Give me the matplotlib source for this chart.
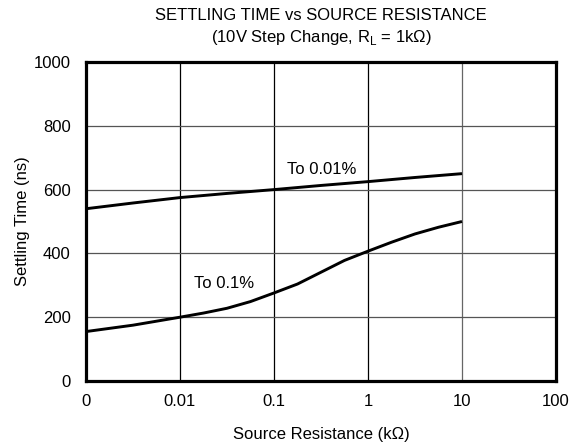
import numpy as np
import matplotlib
matplotlib.use("Agg")
import matplotlib.pyplot as plt

plt.rcParams['font.family'] = ['Liberation Sans', 'DejaVu Sans']

# x axis: decade positions, 0 / 0.01 / 0.1 / 1 / 10 / 100 kOhm
tick_labels = ['0', '0.01', '0.1', '1', '10', '100']

# points, position in decades from the "0" tick
pos_001 = [0, 0.5, 1, 1.5, 2, 2.5, 3, 3.5, 4]
t_001 = [540, 558, 575, 588, 600, 613, 625, 638, 650]

pos_01 = [0, 0.5, 1, 1.25, 1.5, 1.75, 2, 2.25, 2.5, 2.75, 3, 3.25, 3.5, 3.75, 4]
t_01 = [155, 175, 200, 213, 228, 249, 276, 304, 341, 378, 407, 435, 461, 482, 500]

fig = plt.figure(figsize=(5.73, 4.42), dpi=100)
ax = fig.add_axes([86/573, 1-381/442, 470/573, 319/442])

ax.plot(pos_001, t_001, color='black', lw=2.1, solid_capstyle='butt', zorder=3)
ax.plot(pos_01, t_01, color='black', lw=2.1, solid_capstyle='butt', zorder=3)

ax.set_xlim(0, 5)
ax.set_ylim(0, 1000)
ax.set_xticks(range(6))
ax.set_xticklabels(tick_labels)
ax.set_yticks(range(0, 1001, 200))

for x in range(1, 5):
    ax.axvline(x, color='black' if x < 4 else '#666666', lw=0.9, zorder=1)
for y in range(200, 1000, 200):
    ax.axhline(y, color='#555555', lw=0.9, zorder=1)

for s in ax.spines.values():
    s.set_linewidth(2.3)
ax.tick_params(length=0, labelsize=12, pad=9)
ax.tick_params(axis='y', pad=11)

ax.text(2.51, 663, 'To 0.01%', ha='center', va='center', fontsize=12)
ax.text(1.47, 305, 'To 0.1%', ha='center', va='center', fontsize=12)

ax.set_xlabel('Source Resistance (k\u03a9)', fontsize=12, labelpad=13)
ax.set_ylabel('Settling Time (ns)', fontsize=12, labelpad=3)

fig.text(321/573, 1-15.5/442, 'SETTLING TIME vs SOURCE RESISTANCE',
         ha='center', va='center', fontsize=12)
fig.text(321/573, 1-37.5/442, '(10V Step Change, R$_\\mathregular{L}$ = 1k\u03a9)',
         ha='center', va='center', fontsize=12)

fig.savefig('out.png', dpi=100)
